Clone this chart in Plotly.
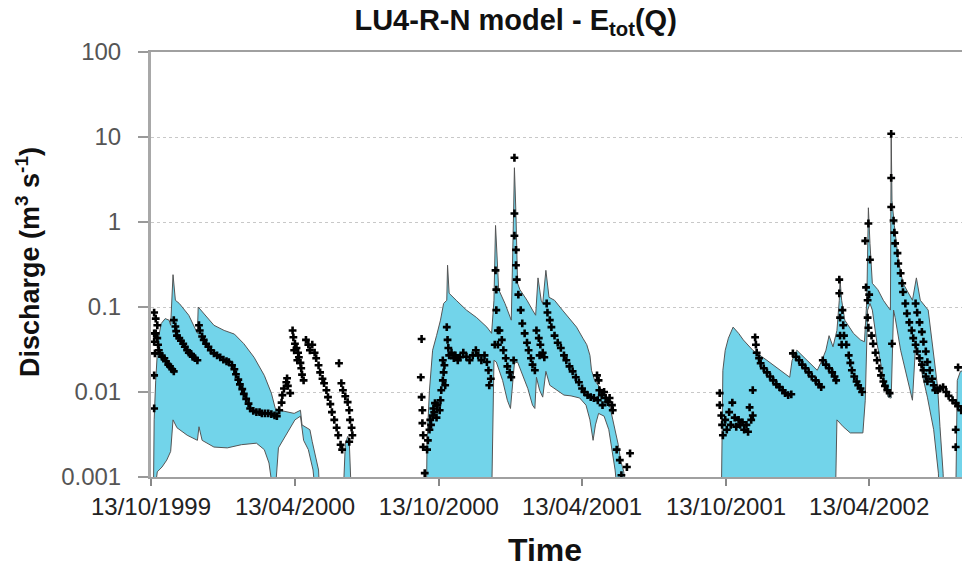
import pandas as pd
import plotly.graph_objects as go

# ---------------- data ----------------
START = pd.Timestamp("1999-10-13")   # day 0 of the record
END_DAY = 1031                        # last day visible on the axis

TICK_DATES = ["1999-10-13", "2000-04-13", "2000-10-13", "2001-04-13", "2001-10-13", "2002-04-13"]
TICK_LABELS = ["13/10/1999", "13/04/2000", "13/10/2000", "13/04/2001", "13/10/2001", "13/04/2002"]
Y_TICKS = [0.001, 0.01, 0.1, 1, 10, 100]
Y_LABELS = ["0.001", "0.01", "0.1", "1", "10", "100"]

# uncertainty band (day, discharge) - upper and lower limits per wet season
BAND_1999_UP = [(3, 0.0005), (4, 0.0047), (6, 0.0137), (9, 0.041), (13, 0.064), (18, 0.073), (23, 0.070),
                (25, 0.061), (28, 0.24), (31, 0.12), (36, 0.11), (48, 0.080), (56, 0.056), (59, 0.049),
                (60, 0.10), (67, 0.084), (80, 0.061), (93, 0.053), (106, 0.048), (118, 0.037), (131, 0.0256),
                (144, 0.0157), (153, 0.0097), (158, 0.0064), (167, 0.0060), (182, 0.0056), (190, 0.0061),
                (192, 0.0041), (199, 0.0038), (202, 0.0036), (205, 0.0026), (209, 0.0018), (213, 0.00121),
                (215, 0.0005)]
BAND_1999_LO = [(3, 0.0005), (8, 0.00115), (14, 0.00131), (20, 0.00158), (25, 0.002), (28, 0.0047),
                (33, 0.0038), (46, 0.0031), (59, 0.0027), (61, 0.0039), (65, 0.0027), (80, 0.00225),
                (97, 0.0022), (115, 0.0024), (134, 0.0025), (144, 0.0021), (150, 0.00146), (157, 0.0005),
                (162, 0.0022), (173, 0.0033), (183, 0.0047), (190, 0.0052), (194, 0.0027), (200, 0.0021),
                (206, 0.00121), (210, 0.0005), (215, 0.0005)]
BAND_2000B_UP = [(244, 0.0005), (247, 0.0024), (250, 0.0030), (252, 0.0027), (255, 0.0005)]
BAND_2000B_LO = [(244, 0.0005), (255, 0.0005)]

BAND_2000_UP = [(350, 0.0005), (351, 0.0027), (354, 0.0105), (358, 0.031), (363, 0.046), (368, 0.070),
                (372, 0.11), (376, 0.12), (377, 0.31), (379, 0.145), (388, 0.12), (401, 0.092), (414, 0.075),
                (427, 0.058), (433, 0.049), (436, 0.12), (438, 0.91), (442, 0.16), (450, 0.11), (455, 0.084),
                (458, 0.070), (461, 1.36), (462, 4.35), (464, 1.2), (466, 0.19), (469, 0.16), (478, 0.12),
                (485, 0.092), (489, 0.080), (492, 0.22), (496, 0.12), (498, 0.11), (502, 0.27), (506, 0.13),
                (513, 0.12), (523, 0.092), (532, 0.073), (541, 0.058), (549, 0.043), (554, 0.036),
                (558, 0.027), (560, 0.018), (564, 0.0137), (570, 0.0114), (579, 0.0089), (583, 0.007),
                (586, 0.0053), (590, 0.0036), (594, 0.0024), (597, 0.00158), (601, 0.00115), (605, 0.0005)]
BAND_2000_LO = [(350, 0.0005), (433, 0.0005), (436, 0.0236), (439, 0.0225), (447, 0.0137), (453, 0.008),
                (457, 0.0064), (460, 0.012), (462, 0.0218), (466, 0.0225), (472, 0.0166), (479, 0.011),
                (485, 0.007), (488, 0.0064), (490, 0.0149), (494, 0.0105), (498, 0.0087), (502, 0.0175),
                (507, 0.012), (516, 0.0105), (525, 0.0092), (534, 0.009), (545, 0.0085), (553, 0.007),
                (558, 0.0047), (562, 0.0027), (565, 0.0041), (569, 0.0056), (576, 0.0052), (582, 0.0036),
                (586, 0.0021), (590, 0.00121), (594, 0.0005), (605, 0.0005)]

BAND_2001_UP = [(725, 0.0005), (726, 0.0047), (727, 0.018), (730, 0.031), (734, 0.043), (740, 0.058),
                (747, 0.049), (753, 0.041), (765, 0.031), (783, 0.0236), (800, 0.018), (812, 0.0149),
                (815, 0.0236), (821, 0.031), (834, 0.0236), (847, 0.018), (853, 0.0236), (858, 0.031),
                (862, 0.046), (867, 0.034), (872, 0.053), (875, 0.12), (876, 0.21), (878, 0.12), (882, 0.070),
                (893, 0.049), (902, 0.041), (907, 0.039), (910, 0.12), (912, 1.47), (914, 0.56), (917, 0.19),
                (924, 0.16), (931, 0.12), (937, 0.1), (940, 0.092), (941, 10.9), (942, 1.78), (945, 0.91),
                (950, 0.36), (956, 0.19), (968, 0.12), (973, 0.22), (978, 0.12), (988, 0.092), (993, 0.037),
                (1000, 0.0114), (1003, 0.0039), (1007, 0.00111), (1008, 0.0005)]
BAND_2001_LO = [(725, 0.0005), (870, 0.0005), (872, 0.0047), (880, 0.0039), (889, 0.0033), (905, 0.0033),
                (908, 0.008), (911, 0.092), (914, 0.11), (917, 0.092), (923, 0.037), (931, 0.0149),
                (937, 0.0087), (940, 0.0085), (941, 0.0085), (944, 0.092), (946, 0.075), (953, 0.031),
                (961, 0.0149), (968, 0.008), (972, 0.036), (978, 0.0195), (987, 0.0087), (995, 0.0036),
                (1001, 0.00111), (1002, 0.0005), (1008, 0.0005)]
BAND_2002B_UP = [(1023, 0.0005), (1025, 0.0137), (1029, 0.0175), (1035, 0.018)]
BAND_2002B_LO = [(1023, 0.0005), (1035, 0.0005)]

# observed discharge (day, discharge)
OBS_1999 = [(4, 0.086), (4, 0.049), (4, 0.039), (5, 0.0285), (4, 0.0157), (4, 0.0064), (6, 0.073), (8, 0.061),
            (6, 0.049), (8, 0.043), (9, 0.036), (10, 0.031), (11, 0.0285), (14, 0.026), (17, 0.025), (19, 0.023),
            (22, 0.021), (24, 0.020), (27, 0.0185), (29, 0.0175),
            (29, 0.070), (31, 0.059), (32, 0.052), (33, 0.046), (36, 0.043), (38, 0.040), (41, 0.037), (43, 0.034),
            (46, 0.031), (48, 0.029), (51, 0.028), (53, 0.026), (56, 0.025), (59, 0.0236),
            (61, 0.061), (62, 0.053), (65, 0.045), (67, 0.041), (70, 0.037), (73, 0.034), (76, 0.031), (80, 0.0285),
            (84, 0.027), (88, 0.0256), (92, 0.024), (96, 0.023), (99, 0.0225), (103, 0.0206), (106, 0.0185),
            (108, 0.0162), (111, 0.014), (113, 0.0123), (116, 0.0108), (118, 0.0095), (121, 0.0083), (124, 0.0073),
            (126, 0.0064), (130, 0.006), (134, 0.0058), (138, 0.0058), (141, 0.0056), (145, 0.0056), (149, 0.0056),
            (153, 0.0055), (157, 0.0053), (160, 0.0052), (163, 0.0061), (166, 0.0075), (167, 0.0092), (169, 0.011),
            (172, 0.013), (173, 0.0145), (174, 0.0118), (177, 0.0097)]
OBS_2000A = [(180, 0.053), (181, 0.044), (182, 0.031), (183, 0.037), (185, 0.033), (186, 0.0236), (187, 0.029),
             (188, 0.0256), (190, 0.022), (191, 0.019), (192, 0.016), (194, 0.0137),
             (197, 0.041), (200, 0.036), (202, 0.031), (205, 0.036), (208, 0.029), (210, 0.025), (213, 0.0206),
             (215, 0.017), (218, 0.0143), (220, 0.0127), (223, 0.0105), (225, 0.0087), (228, 0.0072), (230, 0.0058),
             (233, 0.0047), (236, 0.0038), (238, 0.0031), (241, 0.0024), (243, 0.0021),
             (239, 0.0218), (242, 0.0127), (244, 0.0105), (247, 0.0089), (250, 0.0076), (252, 0.0061), (253, 0.0047),
             (255, 0.0038), (256, 0.0031), (252, 0.0026)]
OBS_2000 = [(344, 0.042), (343, 0.0149), (344, 0.0087), (345, 0.0061), (345, 0.0043), (346, 0.0031), (346, 0.00225),
            (348, 0.00111), (351, 0.0021), (352, 0.0027), (354, 0.0036), (355, 0.0047), (356, 0.0041), (358, 0.0053),
            (359, 0.0064), (360, 0.0058), (361, 0.0074), (363, 0.005), (364, 0.007), (367, 0.0061), (368, 0.008),
            (369, 0.0105), (371, 0.0137), (372, 0.017), (373, 0.0206), (371, 0.0236), (374, 0.012), (376, 0.058),
            (377, 0.041), (378, 0.033), (379, 0.027), (382, 0.029), (385, 0.025), (387, 0.027), (390, 0.0236),
            (393, 0.0256), (397, 0.029), (401, 0.026), (405, 0.0236), (409, 0.027), (413, 0.031), (416, 0.027),
            (420, 0.0236), (424, 0.027), (427, 0.0225), (429, 0.018), (432, 0.0143), (430, 0.012),
            (438, 0.27), (439, 0.16), (439, 0.092), (441, 0.053), (441, 0.036), (437, 0.036),
            (443, 0.053), (446, 0.041), (448, 0.031), (451, 0.025), (453, 0.020), (456, 0.017), (458, 0.0149),
            (462, 5.7), (462, 1.26), (462, 0.69), (464, 0.47), (464, 0.31), (461, 0.0236),
            (465, 0.21), (467, 0.14), (470, 0.092), (472, 0.064), (475, 0.049), (478, 0.038), (480, 0.031),
            (483, 0.025), (485, 0.021), (488, 0.018),
            (490, 0.053), (493, 0.043), (495, 0.036), (498, 0.029), (500, 0.0256), (494, 0.027),
            (503, 0.11), (504, 0.086), (507, 0.070), (509, 0.058), (513, 0.046), (517, 0.038), (521, 0.033),
            (525, 0.027), (528, 0.0236), (532, 0.020), (536, 0.0175), (540, 0.0149), (544, 0.013), (548, 0.011),
            (551, 0.01), (555, 0.0092), (559, 0.0087), (563, 0.0085),
            (567, 0.0157), (569, 0.0137), (570, 0.0105), (573, 0.0092), (576, 0.01), (578, 0.0085), (581, 0.0076),
            (583, 0.0085), (586, 0.007), (587, 0.0061), (574, 0.007), (568, 0.008),
            (592, 0.0021), (596, 0.00158), (609, 0.0019), (605, 0.00131), (598, 0.00105)]
OBS_2001 = [(723, 0.0097), (723, 0.007), (725, 0.0053), (726, 0.0041), (727, 0.0031), (730, 0.0047), (732, 0.0036),
            (735, 0.0058), (737, 0.0041), (739, 0.0075), (742, 0.005), (744, 0.0039), (747, 0.0047), (749, 0.0041),
            (752, 0.0044), (754, 0.0036), (757, 0.0041), (759, 0.0034), (761, 0.0066), (763, 0.0047), (765, 0.0053),
            (765, 0.0105),
            (768, 0.044), (769, 0.036), (770, 0.029), (773, 0.025), (775, 0.0218), (779, 0.019), (783, 0.017),
            (787, 0.0152), (791, 0.0137), (795, 0.0123), (799, 0.0114), (803, 0.0105), (806, 0.0097), (810, 0.0092),
            (814, 0.0094),
            (816, 0.0285), (820, 0.026), (824, 0.0236), (828, 0.021), (832, 0.019), (836, 0.017), (840, 0.0152),
            (845, 0.0137), (849, 0.0123), (852, 0.0114),
            (854, 0.0236), (858, 0.021), (862, 0.019), (866, 0.017), (869, 0.0152), (871, 0.0137),
            (875, 0.21), (875, 0.145), (876, 0.075), (876, 0.046), (878, 0.036),
            (879, 0.092), (880, 0.061), (881, 0.046), (884, 0.036), (887, 0.027), (889, 0.022), (891, 0.018),
            (894, 0.0152), (897, 0.0133), (899, 0.012), (902, 0.011), (904, 0.01),
            (908, 0.60), (912, 0.96), (914, 0.36), (909, 0.17), (911, 0.12), (913, 0.14), (911, 0.075), (912, 0.057),
            (916, 0.046), (918, 0.037), (921, 0.029), (923, 0.0236), (926, 0.019), (928, 0.0157), (931, 0.0133),
            (933, 0.0118), (936, 0.0105), (939, 0.0097),
            (941, 10.9), (941, 3.3), (941, 1.5), (942, 0.037),
            (944, 1.04), (945, 0.75), (946, 0.56), (949, 0.43), (950, 0.325), (953, 0.25), (955, 0.19), (956, 0.15),
            (959, 0.11), (961, 0.084), (964, 0.066), (967, 0.053), (969, 0.043), (972, 0.036), (974, 0.030),
            (977, 0.025), (980, 0.021), (982, 0.018), (985, 0.0152), (987, 0.0133),
            (972, 0.11), (974, 0.086), (977, 0.066), (980, 0.051), (982, 0.039), (985, 0.030), (987, 0.0225),
            (990, 0.018), (993, 0.0143), (995, 0.012), (997, 0.0105),
            (1000, 0.0105), (1003, 0.011), (1007, 0.0114), (1011, 0.01), (1014, 0.009), (1019, 0.008), (1023, 0.0074),
            (1026, 0.0068), (1030, 0.0061), (1026, 0.0195), (1023, 0.0036), (1023, 0.00225)]

BANDS = [(BAND_1999_UP, BAND_1999_LO), (BAND_2000B_UP, BAND_2000B_LO), (BAND_2000_UP, BAND_2000_LO),
         (BAND_2001_UP, BAND_2001_LO), (BAND_2002B_UP, BAND_2002B_LO)]
OBS = OBS_1999 + OBS_2000A + OBS_2000 + OBS_2001

# ---------------- figure ----------------
def day_to_date(d):
    return START + pd.Timedelta(days=d)

FONT = "Liberation Sans, Arial, sans-serif"
fig = go.Figure()

for up, lo in BANDS:
    pts = up + lo[::-1]
    fig.add_trace(go.Scatter(
        x=[day_to_date(d) for d, _ in pts], y=[q for _, q in pts],
        mode="lines", fill="toself", fillcolor="#72d4ea",
        line=dict(color="#555555", width=1), hoverinfo="skip", showlegend=False))

fig.add_trace(go.Scatter(
    x=[day_to_date(d) for d, _ in OBS], y=[q for _, q in OBS],
    mode="markers", marker=dict(symbol="cross", size=6.5, color="black"),
    showlegend=False))

fig.update_layout(
    width=962, height=573, autosize=False,
    margin=dict(l=151, r=0, t=52, b=96),
    paper_bgcolor="white", plot_bgcolor="white",
    title=dict(text="<b>LU4-R-N model - E<sub>tot</sub>(Q)</b>", xref="container", x=0.536, xanchor="center",
               yref="container", y=1 - 20 / 573, yanchor="middle",
               font=dict(family=FONT, size=29, color="#111")),
    xaxis=dict(type="date", range=[day_to_date(0), day_to_date(END_DAY)],
               tickvals=TICK_DATES, ticktext=TICK_LABELS,
               ticks="outside", ticklen=7, tickwidth=1.5, tickcolor="#888",
               showline=True, linecolor="#a0a0a0", linewidth=2, mirror=True,
               showgrid=False, zeroline=False,
               tickfont=dict(family=FONT, size=24, color="#222")),
    yaxis=dict(type="log", range=[-3, 2], tickvals=Y_TICKS, ticktext=Y_LABELS,
               ticks="outside", ticklen=10, tickwidth=1.5, tickcolor="#999",
               showline=True, linecolor="#a8a8a8", linewidth=3,
               showgrid=True, gridcolor="#c8c8c8", griddash="dot", gridwidth=1,
               zeroline=False, ticklabelstandoff=12,
               tickfont=dict(family=FONT, size=24, color="#555")),
    annotations=[
        dict(text="<b>Discharge (m<sup>3</sup> s<sup>-1</sup>)</b>", xref="paper", yref="paper",
             x=(28 - 151) / 811, y=(477 - 262) / 425, textangle=-90, showarrow=False,
             xanchor="center", yanchor="middle", font=dict(family=FONT, size=27, color="#111")),
        dict(text="<b>Time</b>", xref="paper", yref="paper",
             x=(545 - 151) / 811, y=(477 - 550) / 425, showarrow=False,
             xanchor="center", yanchor="middle", font=dict(family=FONT, size=32, color="#111")),
    ],
)

fig.write_html("out.html", config={"displayModeBar": False},
               post_script="document.body.style.margin='0';document.body.style.overflow='hidden';")
